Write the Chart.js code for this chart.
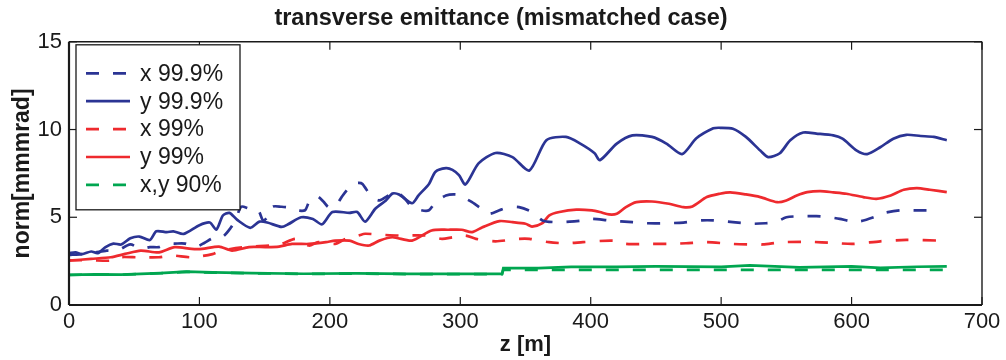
<!DOCTYPE html>
<html>
<head>
<meta charset="utf-8">
<script src="https://cdn.jsdelivr.net/npm/chart.js@4.4.1/dist/chart.umd.min.js"></script>
<style>
  html, body { margin: 0; padding: 0; background: #fff; }
  #wrap { width: 1006px; height: 360px; }
</style>
</head>
<body>
<div id="wrap"><canvas id="c" width="1006" height="360"></canvas></div>
<script>
// z position [m] and normalized emittance [mm mrad] for each curve

// x 99.9%
const zX999 = [0, 10, 20, 29, 37, 47, 55, 62, 69, 75, 81, 89, 97, 104, 110, 118, 124, 128, 132, 138, 145, 149, 153, 156, 163, 169, 174, 181, 184, 190, 195, 199, 205, 209, 215, 221, 225, 232, 238, 244, 250, 257, 263, 270, 276, 281, 289, 297, 303, 309, 316, 322, 330, 337, 345, 355, 363, 373, 384, 394, 401, 414, 432, 443, 458, 471, 485, 494, 509, 524, 534, 542, 550, 563, 573, 583, 591, 599, 607, 617, 624, 637, 650, 660, 668];
const eX999 = [2.85, 2.9, 3.0, 3.1, 3.1, 3.45, 3.2, 3.3, 3.3, 3.5, 3.5, 3.5, 3.3, 3.55, 3.8, 3.9, 4.4, 4.9, 5.6, 5.5, 5.4, 4.8, 5.1, 5.6, 5.6, 5.55, 5.4, 5.4, 5.86, 6.2, 5.9, 5.58, 5.7, 6.15, 6.7, 6.95, 6.9, 6.15, 5.96, 6.2, 6.5, 6.1, 5.58, 5.4, 5.4, 5.86, 6.24, 6.3, 6.1, 5.86, 5.5, 5.2, 5.4, 5.58, 5.58, 5.3, 4.82, 4.72, 4.75, 4.82, 4.91, 4.82, 4.72, 4.66, 4.66, 4.7, 4.82, 4.82, 4.72, 4.63, 4.66, 4.72, 5.0, 5.06, 5.06, 5.0, 4.91, 4.78, 4.78, 5.0, 5.23, 5.39, 5.39, 5.39, 5.3];

// y 99.9%
const zY999 = [0, 5, 10, 17, 22, 28, 34, 40, 47, 54, 62, 67, 75, 80, 88, 100, 108, 113, 118, 123, 129, 139, 146, 152, 163, 168, 178, 187, 194, 202, 215, 221, 227, 235, 243, 248, 253, 263, 268, 276, 281, 289, 294, 299, 304, 314, 327, 340, 353, 366, 381, 392, 403, 407, 420, 432, 447, 458, 470, 481, 494, 499, 509, 519, 530, 536, 545, 553, 563, 573, 586, 593, 604, 612, 622, 632, 642, 653, 663, 673];
const eY999 = [2.95, 3.0, 2.9, 3.05, 2.95, 3.3, 3.5, 3.45, 3.8, 3.9, 3.7, 4.2, 4.15, 4.2, 4.05, 4.55, 4.7, 4.3, 5.1, 5.25, 4.85, 4.4, 4.75, 4.7, 4.45, 4.6, 5.0, 4.9, 4.6, 5.3, 5.25, 5.3, 4.75, 5.5, 5.96, 6.35, 6.3, 5.8, 6.25, 6.9, 7.6, 7.8, 7.7, 7.4, 6.87, 8.07, 8.66, 8.43, 7.67, 9.39, 9.58, 9.2, 8.65, 8.25, 9.2, 9.67, 9.58, 9.2, 8.6, 9.5, 10.07, 10.1, 10.05, 9.58, 8.8, 8.43, 8.65, 9.39, 9.83, 9.77, 9.67, 9.48, 8.8, 8.6, 8.99, 9.48, 9.7, 9.63, 9.58, 9.39];

// x 99%
const zX99 = [0, 17, 32, 38, 53, 69, 79, 94, 110, 117, 135, 155, 163, 174, 184, 191, 204, 212, 222, 227, 240, 253, 273, 286, 294, 304, 312, 327, 345, 353, 368, 381, 394, 417, 427, 443, 460, 473, 489, 509, 524, 532, 547, 568, 586, 601, 622, 642, 668];
const eX99 = [2.55, 2.55, 2.53, 2.72, 2.72, 2.72, 2.82, 2.72, 2.9, 3.1, 3.3, 3.39, 3.48, 3.77, 3.39, 3.58, 3.48, 3.77, 3.96, 4.06, 4.0, 3.96, 3.96, 3.77, 3.86, 3.96, 3.77, 3.63, 3.77, 3.77, 3.58, 3.52, 3.58, 3.67, 3.48, 3.48, 3.48, 3.52, 3.58, 3.48, 3.45, 3.45, 3.58, 3.6, 3.54, 3.48, 3.63, 3.71, 3.67];

// y 99%
const zY99 = [0, 17, 32, 43, 55, 69, 81, 94, 102, 115, 125, 138, 151, 161, 171, 184, 197, 204, 215, 222, 230, 238, 248, 263, 278, 291, 301, 309, 317, 330, 340, 350, 355, 363, 368, 376, 389, 401, 407, 414, 420, 427, 435, 447, 460, 471, 478, 489, 499, 507, 519, 530, 543, 550, 558, 566, 576, 586, 596, 609, 619, 630, 640, 650, 660, 673];
const eY99 = [2.53, 2.63, 2.72, 2.91, 3.1, 3.0, 3.3, 3.2, 3.2, 3.33, 3.1, 3.3, 3.3, 3.33, 3.48, 3.48, 3.58, 3.67, 3.67, 3.48, 3.39, 3.67, 3.86, 3.67, 4.25, 4.29, 4.29, 4.15, 4.43, 4.78, 4.72, 4.63, 4.47, 4.66, 5.1, 5.3, 5.43, 5.39, 5.3, 5.16, 5.2, 5.58, 5.86, 5.9, 5.77, 5.58, 5.62, 6.15, 6.34, 6.42, 6.3, 6.15, 5.86, 5.96, 6.24, 6.43, 6.49, 6.42, 6.34, 6.15, 6.05, 6.24, 6.57, 6.66, 6.57, 6.43];

// x 90%
const zX90 = [0, 20, 40, 70, 90, 110, 140, 180, 220, 260, 300, 332, 333, 400, 500, 600, 673];
const eX90 = [1.71, 1.74, 1.72, 1.81, 1.89, 1.85, 1.81, 1.77, 1.79, 1.76, 1.76, 1.76, 2.0, 2.0, 2.0, 2.0, 2.0];

// y 90%
const zY90 = [0, 20, 40, 70, 90, 110, 140, 180, 220, 260, 300, 332, 333, 360, 385, 420, 450, 500, 522, 560, 600, 622, 650, 673];
const eY90 = [1.72, 1.75, 1.73, 1.82, 1.9, 1.86, 1.82, 1.78, 1.8, 1.77, 1.77, 1.77, 2.1, 2.1, 2.17, 2.17, 2.2, 2.17, 2.26, 2.15, 2.2, 2.12, 2.18, 2.2];

const seriesLabels = ['x 99.9%', 'y 99.9%', 'x 99%', 'y 99%', 'x,y 90%'];
const xTickValues = [0, 100, 200, 300, 400, 500, 600, 700];
const yTickValues = [0, 5, 10, 15];

const BLUE = '#2b3494';
const RED = '#ee2a2e';
const GREEN = '#00a650';
const INK = '#1a1a1a';
const FAMILY = "'Liberation Sans', Arial, Helvetica, sans-serif";
const DASH = [13, 14];

const pts = (zs, es) => zs.map((z, i) => ({ x: z, y: es[i] }));

// boxed legend in the upper-left corner of the plot area
const boxLegend = {
  id: 'boxLegend',
  afterDraw(chart) {
    const { ctx, chartArea: a } = chart;
    const items = chart.data.datasets.filter(d => d.label);
    const bx = a.left + 7, by = a.top + 3, bw = 164, bh = 165;
    ctx.save();
    ctx.fillStyle = '#fff';
    ctx.fillRect(bx, by, bw, bh);
    ctx.strokeStyle = INK;
    ctx.lineWidth = 1.3;
    ctx.strokeRect(bx, by, bw, bh);
    ctx.font = '23px ' + FAMILY;
    ctx.textBaseline = 'middle';
    ctx.textAlign = 'left';
    items.forEach((d, i) => {
      const cy = by + 28.5 + i * 27.9;
      ctx.strokeStyle = d.borderColor;
      ctx.lineWidth = d.borderWidth;
      ctx.setLineDash(d.borderDash || []);
      ctx.beginPath();
      ctx.moveTo(bx + 10, cy);
      ctx.lineTo(bx + 54, cy);
      ctx.stroke();
      ctx.setLineDash([]);
      ctx.fillStyle = INK;
      ctx.fillText(d.label, bx + 64, cy + 1);
    });
    ctx.restore();
  }
};

// box around the plot area with inward ticks on all four sides
const frameTicks = {
  id: 'frameTicks',
  afterDatasetsDraw(chart) {
    const { ctx, chartArea: a, scales: { x, y } } = chart;
    const seg = (x1, y1, x2, y2) => { ctx.beginPath(); ctx.moveTo(x1, y1); ctx.lineTo(x2, y2); ctx.stroke(); };
    ctx.save();
    ctx.strokeStyle = INK;
    ctx.lineWidth = 1.4;
    seg(a.left, a.top, a.right, a.top);
    seg(a.right, a.top, a.right, a.bottom);
    ctx.lineWidth = 2.2;
    seg(a.left, a.bottom, a.right, a.bottom);
    seg(a.left, a.top, a.left, a.bottom);
    ctx.lineWidth = 1.2;
    const L = 8;
    x.ticks.forEach(t => {
      const px = x.getPixelForValue(t.value);
      seg(px, a.bottom, px, a.bottom - L);
      seg(px, a.top, px, a.top + L);
    });
    y.ticks.forEach(t => {
      const py = y.getPixelForValue(t.value);
      seg(a.left, py, a.left + L, py);
      seg(a.right, py, a.right - L, py);
    });
    ctx.restore();
  }
};

const datasets = [
  { label: seriesLabels[0], data: pts(zX999, eX999), borderColor: BLUE, borderDash: DASH },
  { label: seriesLabels[1], data: pts(zY999, eY999), borderColor: BLUE },
  { label: seriesLabels[2], data: pts(zX99, eX99), borderColor: RED, borderDash: DASH },
  { label: seriesLabels[3], data: pts(zY99, eY99), borderColor: RED },
  { label: seriesLabels[4], data: pts(zX90, eX90), borderColor: GREEN, borderDash: DASH, tension: 0 },
  { label: '', data: pts(zY90, eY90), borderColor: GREEN, tension: 0 }
].map(d => Object.assign({ borderWidth: 2.7, pointRadius: 0, fill: false, tension: 0.25 }, d));

new Chart(document.getElementById('c'), {
  type: 'line',
  data: { datasets },
  plugins: [frameTicks, boxLegend],
  options: {
    responsive: false,
    animation: false,
    devicePixelRatio: 1,
    layout: { padding: { left: 0, right: 4, top: 0, bottom: 0 } },
    plugins: {
      legend: { display: false },
      tooltip: { enabled: false },
      title: {
        display: true,
        text: 'transverse emittance (mismatched case)',
        color: INK,
        font: { family: FAMILY, size: 23.5, weight: 'bold' },
        padding: { top: 4, bottom: 9.6 }
      }
    },
    scales: {
      x: {
        type: 'linear',
        min: 0,
        max: 700,
        afterBuildTicks: s => { s.ticks = xTickValues.map(v => ({ value: v })); },
        grid: { display: false, drawTicks: false },
        border: { display: false },
        ticks: { color: INK, font: { family: FAMILY, size: 22 }, padding: 4, maxRotation: 0, autoSkip: false },
        title: { display: true, text: 'z [m]', color: INK, font: { family: FAMILY, size: 22, weight: 'bold' }, padding: { top: 0, bottom: 2 } },
        afterFit: s => { s.height = 55; }
      },
      y: {
        type: 'linear',
        min: 0,
        max: 15,
        afterBuildTicks: s => { s.ticks = yTickValues.map(v => ({ value: v })); },
        grid: { display: false, drawTicks: false },
        border: { display: false },
        ticks: { color: INK, font: { family: FAMILY, size: 22 }, padding: 7, autoSkip: false },
        title: { display: true, text: 'norm[mmmrad]', color: INK, font: { family: FAMILY, size: 23, weight: 'bold' }, padding: { top: 9, bottom: 0 } },
        afterFit: s => { s.width = 69; }
      },
      // empty right margin strip so the plot ends short of the canvas edge
      yr: {
        type: 'linear',
        position: 'right',
        display: true,
        grid: { display: false, drawTicks: false },
        border: { display: false },
        ticks: { display: false },
        afterFit: s => { s.width = 20; }
      }
    }
  }
});
</script>
</body>
</html>
